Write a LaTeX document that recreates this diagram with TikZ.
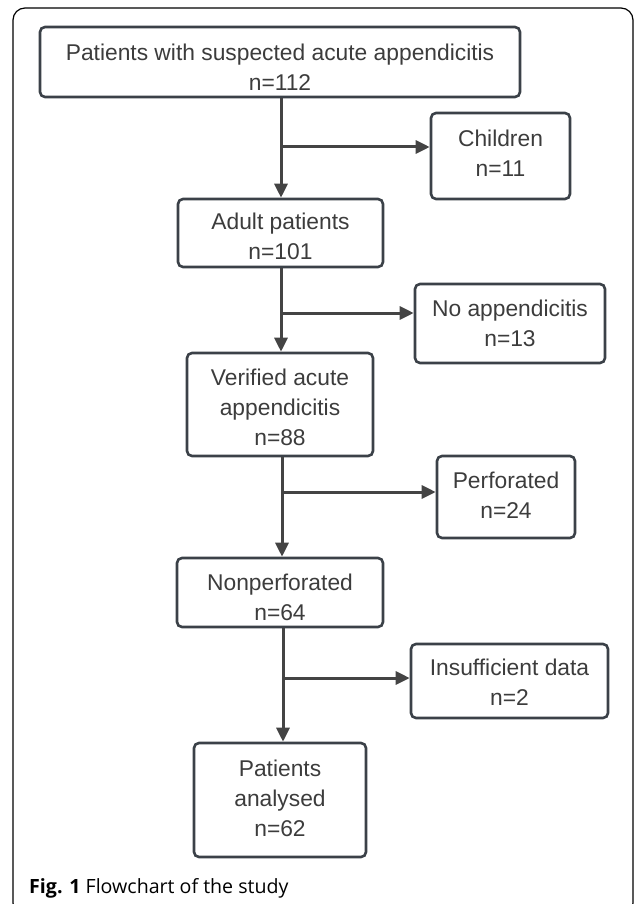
\documentclass[tikz,border=0pt]{standalone}
\usepackage{fontspec}
\setmainfont{Liberation Sans}
\newfontfamily\capfont{Open Sans}
\usetikzlibrary{arrows.meta,calc}
\definecolor{boxline}{HTML}{3B4148}
\definecolor{txt}{HTML}{3C3C3C}
\definecolor{arr}{HTML}{444444}
\tikzset{
  fbox/.style={draw=boxline,line width=2.6pt,rounded corners=5pt,inner sep=0pt},
  ftext/.style={align=center,text=txt,font=\fontsize{22.8}{30}\selectfont,inner sep=0pt},
  flow/.style={draw=arr,line width=3pt,-{Triangle[length=14pt,width=13pt]}}
}
\begin{document}
\begin{tikzpicture}[x=1pt,y=-1pt]
\useasboundingbox (0,0) rectangle (634,904);
\draw[line width=1.2pt,rounded corners=12pt] (13,8) rectangle (633,915);
\node[fbox,minimum width=480pt,minimum height=70pt] (top) at (280,62) {};
\node[ftext] (topt) at (280,67) {Patients with suspected acute appendicitis\\n=112};
\node[fbox,minimum width=139pt,minimum height=86pt] (child) at (500.5,156) {};
\node[ftext] (childt) at (500.5,153) {Children\\n=11};
\node[fbox,minimum width=205pt,minimum height=68pt] (adult) at (280.5,233) {};
\node[ftext] (adultt) at (280.5,236.5) {Adult patients\\n=101};
\node[fbox,minimum width=190pt,minimum height=79pt] (noapp) at (510,323.5) {};
\node[ftext] (noappt) at (510,323) {No appendicitis\\n=13};
\node[fbox,minimum width=186pt,minimum height=103pt] (verif) at (280,404.5) {};
\node[ftext] (veriftx) at (280,407) {Verified acute\\appendicitis\\n=88};
\node[fbox,minimum width=138pt,minimum height=82pt] (perf) at (506,497) {};
\node[ftext] (perft) at (506,495) {Perforated\\n=24};
\node[fbox,minimum width=206pt,minimum height=69pt] (nonperf) at (280,592.5) {};
\node[ftext] (nonperft) at (280,597) {Nonperforated\\n=64};
\node[fbox,minimum width=197pt,minimum height=74pt] (insuf) at (509.5,681) {};
\node[ftext] (insuft) at (509.5,682.5) {Insufficient data\\n=2};
\node[fbox,minimum width=172pt,minimum height=114pt] (anal) at (280,800) {};
\node[ftext] (analt) at (280,798) {Patients\\analysed\\n=62};
\coordinate (b1) at (281,147);
\coordinate (b2) at (281,313);
\coordinate (b3) at (282,492);
\coordinate (b4) at (283,678);
\draw[flow] (top.south -| b1) -- (adult.north -| b1);
\draw[flow] (b1) -- (b1 -| child.west);
\draw[flow] (adult.south -| b2) -- (verif.north -| b2);
\draw[flow] (b2) -- (b2 -| noapp.west);
\draw[flow] (verif.south -| b3) -- (nonperf.north -| b3);
\draw[flow] (b3) -- (b3 -| perf.west);
\draw[flow] (nonperf.south -| b4) -- (anal.north -| b4);
\draw[flow] (b4) -- (b4 -| insuf.west);
\node[anchor=west,inner sep=0pt,font=\capfont\fontsize{19.6}{22}\selectfont,text=black] (cap) at (29,888) {\textbf{Fig. 1} Flowchart of the study};
\end{tikzpicture}
\end{document}
